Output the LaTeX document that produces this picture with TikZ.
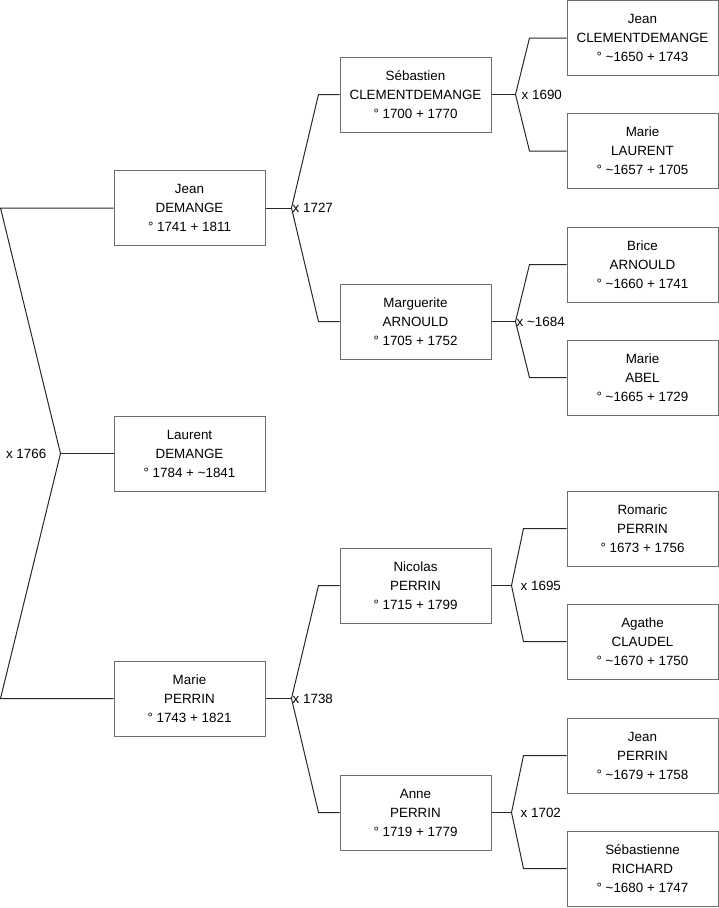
\documentclass[tikz,border=0pt]{standalone}
\usepackage{fontspec}
\setmainfont{Liberation Sans}
\usepackage{tikz}
\usetikzlibrary{positioning, calc}
\definecolor{boxgray}{RGB}{110, 110, 110}
\definecolor{linegray}{RGB}{40, 40, 40}

\begin{document}
\begin{tikzpicture}[
  x=1pt, y=-1pt,
  every node/.style={font=\fontsize{13.4}{19}\selectfont},
  person/.style={draw=boxgray, fill=white, line width=1pt, minimum width=151pt, minimum height=75pt, align=center, inner sep=0pt},
  link/.style={draw=linegray, line width=1pt},
  wed/.style={inner sep=1pt, anchor=west}
]
  \useasboundingbox (0,0) rectangle (719,908);

  % Enfant et parents
  \node[person] (jean) at (189.5, 208) {Jean\\DEMANGE\\° 1741 + 1811};
  \node[person] (laurent) at (189.5, 453.5) {Laurent\\DEMANGE\\° 1784 + \textasciitilde1841};
  \node[person] (marie) at (189.5, 698.5) {Marie\\PERRIN\\° 1743 + 1821};

  % Grands-parents
  \node[person] (sebastien) at (415.5, 94.5) {Sébastien\\CLEMENTDEMANGE\\° 1700 + 1770};
  \node[person] (marguerite) at (415.5, 321.5) {Marguerite\\ARNOULD\\° 1705 + 1752};
  \node[person] (nicolas) at (415.5, 585.5) {Nicolas\\PERRIN\\° 1715 + 1799};
  \node[person] (anne) at (415.5, 812.5) {Anne\\PERRIN\\° 1719 + 1779};

  % Arriere-grands-parents
  \node[person] (jeanC) at (642.5, 38) {Jean\\CLEMENTDEMANGE\\° \textasciitilde1650 + 1743};
  \node[person] (marieL) at (642.5, 151) {Marie\\LAURENT\\° \textasciitilde1657 + 1705};
  \node[person] (brice) at (642.5, 264.5) {Brice\\ARNOULD\\° \textasciitilde1660 + 1741};
  \node[person] (marieA) at (642.5, 377.5) {Marie\\ABEL\\° \textasciitilde1665 + 1729};
  \node[person] (romaric) at (642.5, 528.5) {Romaric\\PERRIN\\° 1673 + 1756};
  \node[person] (agathe) at (642.5, 641.5) {Agathe\\CLAUDEL\\° \textasciitilde1670 + 1750};
  \node[person] (jeanP) at (642.5, 755.5) {Jean\\PERRIN\\° \textasciitilde1679 + 1758};
  \node[person] (sebastienne) at (642.5, 868.5) {Sébastienne\\RICHARD\\° \textasciitilde1680 + 1747};

  % Mariages
  \coordinate (w0) at ([xshift=-53pt]laurent.west);
  \coordinate (w1) at ([xshift=26pt]jean.east);
  \coordinate (w4) at ([xshift=26pt]marie.east);
  \coordinate (w2) at ([xshift=24pt]sebastien.east);
  \coordinate (w3) at ([xshift=24pt]marguerite.east);
  \coordinate (w5) at ([xshift=20pt]nicolas.east);
  \coordinate (w6) at ([xshift=20pt]anne.east);

  \draw[link] (jean.west) -- ([xshift=-113pt]jean.west) -- (w0) -- ([xshift=-113pt]marie.west) -- (marie.west);
  \draw[link] (w0) -- (laurent.west);

  \draw[link] (jean.east) -- (w1);
  \draw[link] (sebastien.west) -- ([xshift=-21pt]sebastien.west) -- (w1) -- ([xshift=-21pt]marguerite.west) -- (marguerite.west);
  \draw[link] (marie.east) -- (w4);
  \draw[link] (nicolas.west) -- ([xshift=-21pt]nicolas.west) -- (w4) -- ([xshift=-21pt]anne.west) -- (anne.west);

  \draw[link] (sebastien.east) -- (w2);
  \draw[link] (jeanC.west) -- ([xshift=-37pt]jeanC.west) -- (w2) -- ([xshift=-37pt]marieL.west) -- (marieL.west);
  \draw[link] (marguerite.east) -- (w3);
  \draw[link] (brice.west) -- ([xshift=-37pt]brice.west) -- (w3) -- ([xshift=-37pt]marieA.west) -- (marieA.west);
  \draw[link] (nicolas.east) -- (w5);
  \draw[link] (romaric.west) -- ([xshift=-43pt]romaric.west) -- (w5) -- ([xshift=-43pt]agathe.west) -- (agathe.west);
  \draw[link] (anne.east) -- (w6);
  \draw[link] (jeanP.west) -- ([xshift=-43pt]jeanP.west) -- (w6) -- ([xshift=-43pt]sebastienne.west) -- (sebastienne.west);

  \node[wed, anchor=east] (m0) at ([xshift=-13pt]w0) {x 1766};
  \node[wed] (m1) at (w1) {x 1727};
  \node[wed] (m4) at (w4) {x 1738};
  \node[wed] (m2) at ([xshift=5pt]w2) {x 1690};
  \node[wed] (m3) at (w3) {x \textasciitilde1684};
  \node[wed] (m5) at ([xshift=8pt]w5) {x 1695};
  \node[wed] (m6) at ([xshift=8pt]w6) {x 1702};

\end{tikzpicture}
\end{document}
